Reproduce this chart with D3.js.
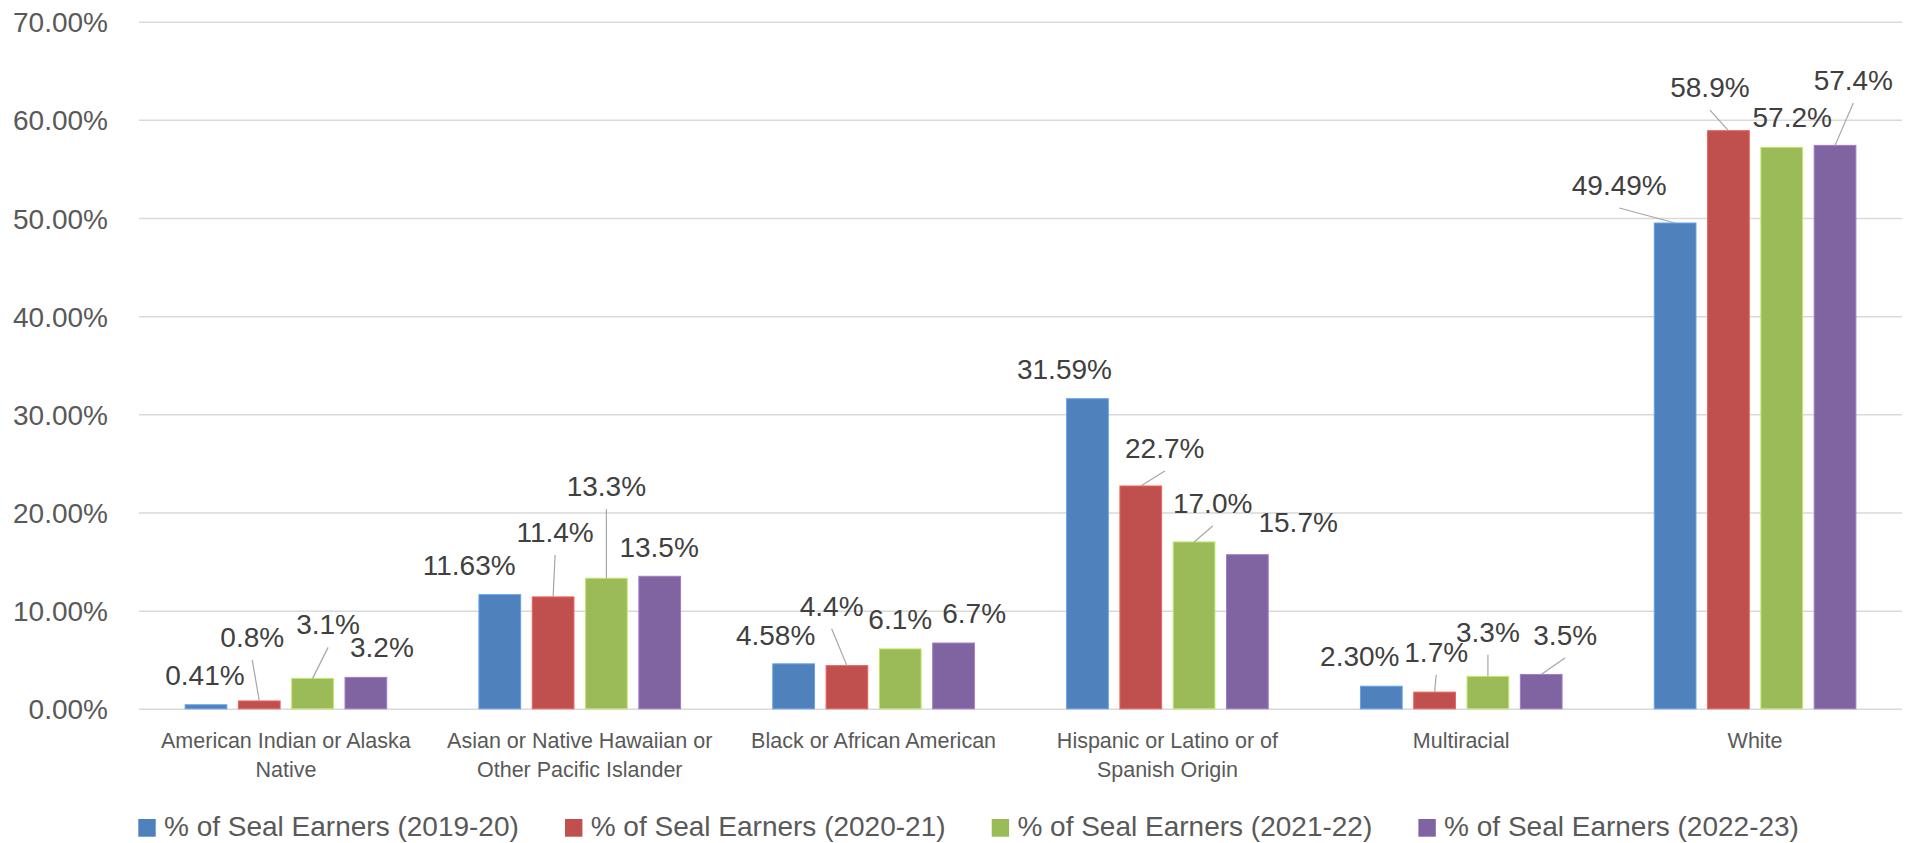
<!DOCTYPE html>
<html>
<head>
<meta charset="utf-8">
<script src="https://cdn.jsdelivr.net/npm/d3@7"></script>
<style>
  html, body { margin: 0; padding: 0; background: #ffffff; }
  svg { display: block; }
  text { font-family: "Liberation Sans", Arial, sans-serif; }
</style>
</head>
<body>
<svg id="chart" width="1911" height="843"></svg>
<script>
// ---------------- data ----------------
const categories = [
  ["American Indian or Alaska", "Native"],
  ["Asian or Native Hawaiian or", "Other Pacific Islander"],
  ["Black or African American"],
  ["Hispanic or Latino or of", "Spanish Origin"],
  ["Multiracial"],
  ["White"]
];
const seriesNames = [
  "% of Seal Earners (2019-20)",
  "% of Seal Earners (2020-21)",
  "% of Seal Earners (2021-22)",
  "% of Seal Earners (2022-23)"
];
const values2019 = [0.41, 11.63, 4.58, 31.59, 2.30, 49.49];
const values2020 = [0.8, 11.4, 4.4, 22.7, 1.7, 58.9];
const values2021 = [3.1, 13.3, 6.1, 17.0, 3.3, 57.2];
const values2022 = [3.2, 13.5, 6.7, 15.7, 3.5, 57.4];
const labelDecimals = [2, 1, 1, 1];
const yTicks = [0, 10, 20, 30, 40, 50, 60, 70];

// ---------------- layout / style ----------------
const colors = ["#4F81BD", "#C0504D", "#9BBB59", "#8064A2"];
// label offset from top-centre of its bar: [dx, dy, leader line?]
const labelOffsets = [
  [[-1, -30, 0], [-30.6, -29.8, 0], [-18, -29, 0], [-23, -30, 0], [-21.5, -30.7, 0], [-55.9, -38, 1]],
  [[-7, -64, 1], [2, -65, 1], [-15.3, -59.8, 1], [24, -38, 1], [1.6, -40.3, 1], [-18.5, -43.6, 1]],
  [[15.5, -54, 1], [0, -92.4, 1], [0, -29.8, 0], [18.6, -39, 1], [0, -44.6, 1], [10.5, -30.3, 0]],
  [[16, -30.6, 0], [-0.6, -29.4, 0], [20.6, -30.5, 0], [50.8, -33, 0], [24, -39.6, 1], [18.3, -65.3, 1]]
];

const allValues = [values2019, values2020, values2021, values2022];
const svg = d3.select("#chart");
const W = 1911, H = 843;
const plotLeft = 139, plotRight = 1902, yBottom = 708.8, yTop = 21.7;

const catIdx = d3.range(categories.length);
const x0 = d3.scaleBand().domain(catIdx).range([plotLeft, plotRight]).padding(0);
const x1 = d3.scaleBand().domain(d3.range(seriesNames.length))
  .range([0, x0.bandwidth()]).paddingInner(0.2176).paddingOuter(0.865);
const y = d3.scaleLinear().domain([0, 70]).range([yBottom, yTop]);

// gridlines
const yAxis = d3.axisLeft(y).tickValues(yTicks)
  .tickFormat(d => d3.format(".2f")(d) + "%")
  .tickSize(-(plotRight - plotLeft)).tickPadding(31);
const gy = svg.append("g").attr("transform", `translate(${plotLeft},0)`).call(yAxis);
gy.select(".domain").remove();
gy.selectAll(".tick line").attr("stroke", "#D9D9D9").attr("stroke-width", 1.5);
gy.selectAll(".tick text")
  .attr("fill", "#595959").attr("font-size", 28)
  .attr("font-family", "Liberation Sans, Arial, sans-serif")
  .attr("dy", "0.36em");

// bars
const barData = [];
allValues.forEach((vals, s) => vals.forEach((v, c) => barData.push({ s, c, v })));

svg.append("g").selectAll("rect").data(barData).join("rect")
  .attr("x", d => x0(d.c) + x1(d.s))
  .attr("y", d => y(d.v))
  .attr("width", x1.bandwidth())
  .attr("height", d => y(0) - y(d.v))
  .attr("fill", d => colors[d.s])
  .attr("stroke", d => d3.color(colors[d.s]).brighter(0.6))
  .attr("stroke-width", 1);

// leader lines + labels
const lblG = svg.append("g");
barData.forEach(d => {
  const bx = x0(d.c) + x1(d.s) + x1.bandwidth() / 2;
  const by = y(d.v);
  const [dx, dy, leader] = labelOffsets[d.s][d.c];
  const cx = bx + dx, cy = by + dy;
  if (leader) {
    lblG.append("line")
      .attr("x1", cx).attr("y1", cy + 23)
      .attr("x2", bx).attr("y2", by)
      .attr("stroke", "#A6A6A6").attr("stroke-width", 1.2);
  }
  lblG.append("text")
    .attr("x", cx).attr("y", cy + 10)
    .attr("text-anchor", "middle")
    .attr("font-size", 28)
    .attr("fill", "#404040")
    .text(d.v.toFixed(labelDecimals[d.s]) + "%");
});

// category labels
const catG = svg.append("g");
categories.forEach((lines, c) => {
  const t = catG.append("text")
    .attr("x", x0(c) + x0.bandwidth() / 2)
    .attr("y", 748.3)
    .attr("text-anchor", "middle")
    .attr("font-size", 21.5)
    .attr("fill", "#595959");
  lines.forEach((ln, i) => {
    t.append("tspan").attr("x", x0(c) + x0.bandwidth() / 2)
      .attr("dy", i === 0 ? 0 : 29).text(ln);
  });
});

// legend
const legStart = 138.3, legStep = 426.7;
const leg = svg.append("g").selectAll("g").data(seriesNames).join("g")
  .attr("transform", (d, i) => `translate(${legStart + i * legStep},0)`);
leg.append("rect").attr("x", 0).attr("y", 819).attr("width", 17.4).attr("height", 17.7)
  .attr("fill", (d, i) => colors[i]);
leg.append("text").attr("x", 25.7).attr("y", 836).attr("font-size", 28)
  .attr("fill", "#595959").text(d => d);
</script>
</body>
</html>
